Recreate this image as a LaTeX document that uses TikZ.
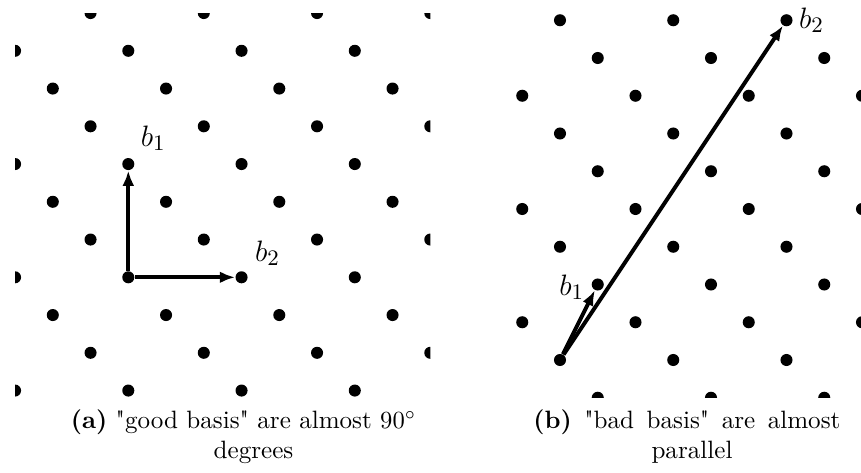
\documentclass[tikz,border=0pt]{standalone}
\usetikzlibrary{arrows.meta,calc}
\newcommand\strq{\XeTeXglyph\XeTeXcharglyph"22\relax}
\begin{document}
\begin{tikzpicture}[x=0.4065pt,y=-0.4065pt,
  dot/.style={circle,fill=black,inner sep=0pt,minimum size=4.9pt},
  vec/.style={line width=1.6pt,-{Latex[length=6.2pt,width=4.8pt]}},
  lbl/.style={inner sep=0pt,font=\fontsize{12.5}{15}\selectfont},
  captxt/.style={inner sep=0pt,anchor=base,font=\fontsize{10.2}{12.2}\selectfont}]
\useasboundingbox (0,0) rectangle (861,472);
% (a) good basis
\begin{scope}[shift={(128.3,277.3)},x=15.345pt,y=15.345pt]
  \clip (-3,-3.17) rectangle (8,7);
  \foreach \i in {-3,...,8}{
    \foreach \j in {-3,...,7}{
      \pgfmathtruncatemacro\r{mod(\i+\j+30,3)}
      \ifnum\r=0 \node[dot] (La\i b\j) at (\i,\j) {}; \fi
    }}
  \draw[vec] (La0b0) -- (La0b3);
  \draw[vec] (La0b0) -- (La3b0);
\end{scope}
% (b) bad basis
\begin{scope}[shift={(560,360)},x=15.345pt,y=15.345pt]
  \clip (-1.3,-1) rectangle (8,9.3);
  \foreach \i in {-2,...,8}{
    \foreach \j in {-1,...,9}{
      \pgfmathtruncatemacro\r{mod(\i+\j+30,3)}
      \ifnum\r=0 \node[dot] (Ra\i b\j) at (\i,\j) {}; \fi
    }}
  \draw[vec] (Ra0b0) -- (Ra1b2);
  \draw[vec] (Ra0b0) -- (Ra6b9);
\end{scope}
% labels
\node[lbl] (lb1) at ($(La0b3)+(25,-26)$) {$b_1$};
\node[lbl] (lb2) at ($(La3b0)+(26,-24)$) {$b_2$};
\node[lbl] (rb2) at ($(Ra6b9)+(25,0)$) {$b_2$};
\node[lbl] (rb1) at ($(Ra1b2)+(-26,3)$) {$b_1$};
% captions
\node[captxt] (ca1) at (243.5,428.5) {\textbf{(a)} \strq good basis\strq{} are almost $90^\circ$};
\node[captxt] (ca2) at (253.5,458) {degrees};
\node[captxt] (cb1) at (686.9,428.5) {\makebox[124.8pt][s]{\textbf{(b)} \strq bad basis\strq{} are almost}};
\node[captxt] (cb2) at (692,458) {parallel};
\end{tikzpicture}
\end{document}
